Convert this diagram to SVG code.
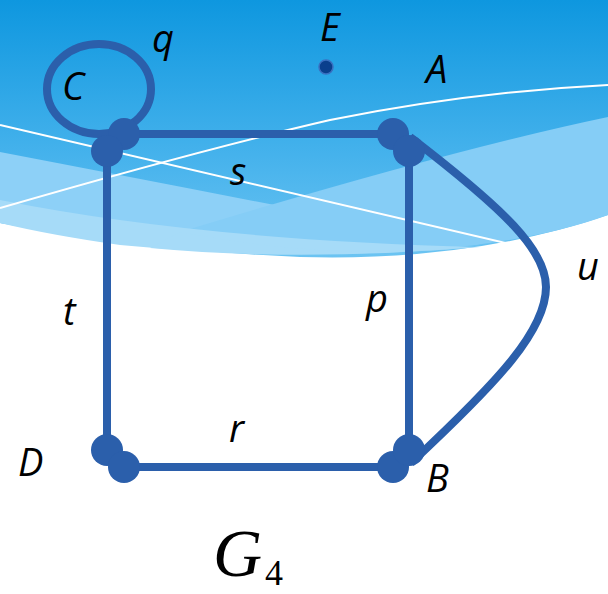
<svg xmlns="http://www.w3.org/2000/svg" width="608" height="594" viewBox="0 0 608 594">
<defs>
<linearGradient id="sky" x1="0" y1="0" x2="0" y2="1">
<stop offset="0" stop-color="#0e97df"/>
<stop offset="0.6" stop-color="#45b2ec"/>
<stop offset="1" stop-color="#6cc4f2"/>
</linearGradient>
</defs>
<style>
.edge{fill:none;stroke:#2b5fab;stroke-width:8;stroke-linecap:butt}
.dot{fill:#2b5fab}
.lbl{font-family:"Open Sans","DejaVu Sans",sans-serif;font-style:italic;font-size:38px;fill:#000}
.wl{fill:none;stroke:#fff;stroke-width:2}
</style>
<rect width="608" height="594" fill="#fff"/>
<g id="background">
<path d="M0 0 H608 V215 Q470 262 300 257 Q140 250 0 223 Z" fill="url(#sky)"/>
<path d="M0 152 Q250 200 480 245 Q250 255 0 223 Z" fill="#8dd0f7"/>
<path d="M608 117 Q450 150 180 232 Q320 258 430 250 Q540 240 608 215 Z" fill="#85cdf6"/>
<path d="M0 200 Q200 240 480 247 Q300 262 120 245 Q50 235 0 223 Z" fill="#a6dbf8"/>
<path d="M180 232 Q320 258 430 250 L480 247 Q300 262 150 248 Z" fill="#a6dbf8"/>
<path class="wl" d="M0 125 L510 244"/>
<path class="wl" d="M0 208 Q200 150 330 120 Q470 92 608 85"/>
</g>
<g id="connectors">
<ellipse class="edge" cx="99" cy="89" rx="52" ry="45" stroke-width="7"/>
<line class="edge" x1="124" y1="134" x2="393" y2="134"/>
<line class="edge" x1="107" y1="151" x2="107" y2="450"/>
<line class="edge" x1="409" y1="151" x2="409" y2="450"/>
<line class="edge" x1="124" y1="467" x2="393" y2="467"/>
<path class="edge" d="M410 137 C505 210 546 250 546 287 C546 330 500 380 411 463"/>
</g>
<g id="node-C">
<circle class="dot" cx="124" cy="134" r="16"/>
<circle class="dot" cx="107" cy="151" r="16"/>
<text class="lbl" x="62" y="100">C</text>
</g>
<g id="node-A">
<circle class="dot" cx="393" cy="134" r="16"/>
<circle class="dot" cx="409" cy="151" r="16"/>
<text class="lbl" x="426" y="83">A</text>
</g>
<g id="node-D">
<circle class="dot" cx="107" cy="450" r="16"/>
<circle class="dot" cx="124" cy="467" r="16"/>
<text class="lbl" x="18" y="476">D</text>
</g>
<g id="node-B">
<circle class="dot" cx="393" cy="467" r="16"/>
<circle class="dot" cx="409" cy="450" r="16"/>
<text class="lbl" x="426" y="492">B</text>
</g>
<g id="node-E">
<circle cx="326" cy="67" r="7" fill="#0a3f8c" stroke="#3a6fc0" stroke-width="1.5"/>
<text class="lbl" x="320" y="41">E</text>
</g>
<g id="edge-labels">
<text class="lbl" x="152" y="52">q</text>
<text class="lbl" x="230" y="185">s</text>
<text class="lbl" x="63" y="325">t</text>
<text class="lbl" x="366" y="312">p</text>
<text class="lbl" x="577" y="280">u</text>
<text class="lbl" x="229" y="442">r</text>
</g>
<g id="title">
<text x="213" y="576" font-family="'Liberation Serif',serif" font-style="italic" font-size="68">G</text>
<text x="265" y="585" font-family="'Liberation Serif',serif" font-size="36">4</text>
</g>
</svg>
